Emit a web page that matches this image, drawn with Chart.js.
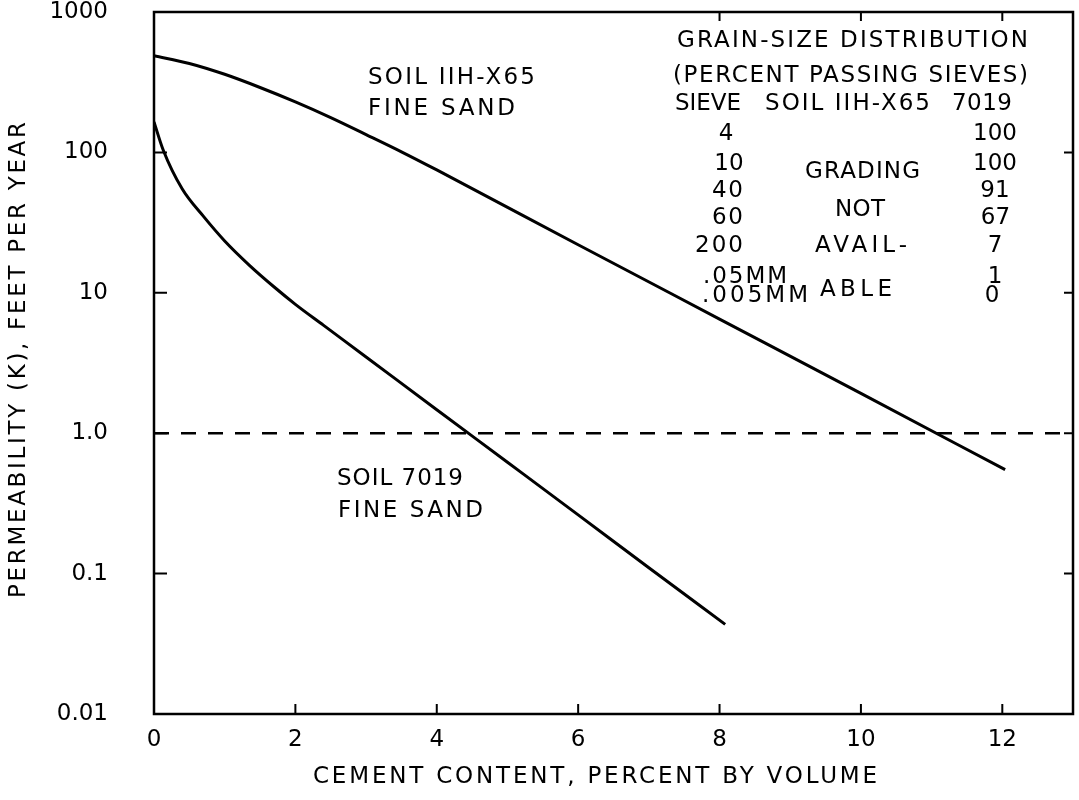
<!DOCTYPE html>
<html>
<head>
<meta charset="utf-8">
<script src="https://cdn.jsdelivr.net/npm/chart.js@4.4.1/dist/chart.umd.min.js"></script>
<style>
  html, body { margin: 0; padding: 0; background: #fff; }
  canvas { display: block; }
</style>
</head>
<body>
<canvas id="myChart" width="1079" height="800"></canvas>
<script>
// Soil IIH-X65 fine sand
const cementIIH = [0, 0.5, 1, 1.5, 2, 2.5, 3, 3.5, 4, 6, 8, 10, 12.04];
const permIIH = [488, 430, 360, 290, 229, 177, 134, 101, 75, 22, 6.5, 1.92, 0.55];

// Soil 7019 fine sand
const cement7019 = [0, 0.13, 0.4, 0.7, 1, 1.35, 1.7, 2, 2.4, 3, 4, 5, 6, 7, 8.08];
const perm7019 = [165, 104, 54.8, 35, 23.4, 15.7, 11, 8.28, 5.86, 3.49, 1.47, 0.621, 0.262, 0.11, 0.0435];

// dashed reference line at K = 1.0
const refX = [0, 13];
const refY = [1, 1];

const xTicks = [0, 2, 4, 6, 8, 10, 12];
const yTicks = [0.01, 0.1, 1, 10, 100, 1000];
const yTickLabels = ['0.01', '0.1', '1.0', '10', '100', '1000'];

const FONT = '"DejaVu Sans", sans-serif';

function toPoints(xs, ys) {
  return xs.map((x, i) => ({ x: x, y: ys[i] }));
}

// draws a string centred on cx, spread by letter spacing towards width w
function fitText(ctx, str, cx, cy, w, size) {
  ctx.font = size + 'px ' + FONT;
  ctx.letterSpacing = '0px';
  const m = ctx.measureText(str).width;
  let sp = 0;
  if (str.length > 1) {
    sp = Math.max((w - m) / (str.length - 1), 0);
  }
  const real = m + sp * (str.length - 1);
  ctx.letterSpacing = sp + 'px';
  ctx.textAlign = 'left';
  ctx.textBaseline = 'middle';
  ctx.fillText(str, cx - real / 2, cy);
  ctx.letterSpacing = '0px';
}

// text labels: [text, left, right, centerY]
const notes = [
  ['SOIL IIH-X65', 368, 535, 78],
  ['FINE SAND', 368, 515, 109],
  ['SOIL 7019', 337, 463, 479],
  ['FINE SAND', 338, 483, 511],
  ['GRAIN-SIZE DISTRIBUTION', 677, 1028, 41],
  ['(PERCENT PASSING SIEVES)', 673, 1028, 76],
  ['SIEVE', 677, 739, 104],
  ['SOIL IIH-X65', 765, 930, 104],
  ['7019', 952, 1012, 104],
  ['4', 717, 735, 134],
  ['10', 715, 743, 164],
  ['40', 712, 743, 191],
  ['60', 712, 743, 218],
  ['200', 695, 743, 246],
  ['.05MM', 703, 787, 277],
  ['.005MM', 702, 808, 296],
  ['GRADING', 805, 920, 172],
  ['NOT', 835, 885, 210],
  ['AVAIL-', 815, 907, 246],
  ['ABLE', 820, 892, 290],
  ['100', 978, 1012, 134],
  ['100', 978, 1012, 164],
  ['91', 983, 1007, 191],
  ['67', 983, 1008, 218],
  ['7', 988, 1002, 246],
  ['1', 992, 998, 277],
  ['0', 985, 999, 296]
];

const framePlugin = {
  id: 'frame',
  afterDraw(chart) {
    const ctx = chart.ctx;
    const a = chart.chartArea;
    const xs = chart.scales.x;
    const ys = chart.scales.y;
    ctx.save();
    ctx.strokeStyle = '#000';
    ctx.lineWidth = 2.5;
    ctx.strokeRect(a.left, a.top, a.right - a.left, a.bottom - a.top);

    // inner tick marks
    ctx.lineWidth = 2;
    ctx.beginPath();
    [100, 10, 1, 0.1].forEach(v => {
      const y = ys.getPixelForValue(v);
      ctx.moveTo(a.left, y); ctx.lineTo(a.left + 13, y);
      ctx.moveTo(a.right, y); ctx.lineTo(a.right - 9, y);
    });
    [2, 4, 6, 8, 10, 12].forEach(v => {
      const x = xs.getPixelForValue(v);
      ctx.moveTo(x, a.bottom); ctx.lineTo(x, a.bottom - 10);
    });
    [8, 10, 12].forEach(v => {
      const x = xs.getPixelForValue(v);
      ctx.moveTo(x, a.top); ctx.lineTo(x, a.top + 9);
    });
    ctx.stroke();

    ctx.fillStyle = '#000';
    notes.forEach(n => {
      fitText(ctx, n[0], (n[1] + n[2]) / 2, n[3], n[2] - n[1], 23);
    });

    // axis titles
    fitText(ctx, 'CEMENT CONTENT, PERCENT BY VOLUME', 595, 777, 564, 23);
    ctx.translate(19, 360);
    ctx.rotate(-Math.PI / 2);
    fitText(ctx, 'PERMEABILITY (K), FEET PER YEAR', 0, 0, 476, 23);
    ctx.restore();
  }
};

const myChart = document.getElementById('myChart');

let lineChart = new Chart(myChart, {
  type: 'line',
  data: {
    datasets: [
      {
        label: 'Soil IIH-X65',
        data: toPoints(cementIIH, permIIH),
        borderColor: '#000',
        borderWidth: 3,
        cubicInterpolationMode: 'monotone',
        pointRadius: 0,
        fill: false
      },
      {
        label: 'Soil 7019',
        data: toPoints(cement7019, perm7019),
        borderColor: '#000',
        borderWidth: 3,
        cubicInterpolationMode: 'monotone',
        pointRadius: 0,
        fill: false
      },
      {
        label: 'K = 1.0',
        data: toPoints(refX, refY),
        borderColor: '#000',
        borderWidth: 2.5,
        borderDash: [15, 12],
        pointRadius: 0,
        fill: false
      }
    ]
  },
  options: {
    responsive: false,
    animation: false,
    layout: { padding: { top: 12, right: 6, left: 0, bottom: 0 } },
    plugins: {
      legend: { display: false },
      tooltip: { enabled: false }
    },
    scales: {
      x: {
        type: 'linear',
        min: 0,
        max: 13,
        grid: { display: false, drawTicks: false },
        border: { display: false },
        afterBuildTicks: scale => { scale.ticks = xTicks.map(v => ({ value: v })); },
        afterFit: scale => {
          scale.height = 86;
          scale.paddingLeft = 0;
          scale.paddingRight = 0;
        },
        ticks: {
          color: '#000',
          padding: 12,
          maxRotation: 0,
          font: { family: FONT, size: 23 }
        }
      },
      y: {
        type: 'logarithmic',
        min: 0.01,
        max: 1000,
        grid: { display: false, drawTicks: false },
        border: { display: false },
        afterBuildTicks: scale => { scale.ticks = yTicks.map(v => ({ value: v })); },
        afterFit: scale => {
          scale.width = 154;
          scale.paddingTop = 0;
          scale.paddingBottom = 0;
        },
        ticks: {
          color: '#000',
          padding: 46,
          font: { family: FONT, size: 23 },
          callback: (value, index) => yTickLabels[index]
        }
      }
    }
  },
  plugins: [framePlugin]
});
</script>
</body>
</html>
